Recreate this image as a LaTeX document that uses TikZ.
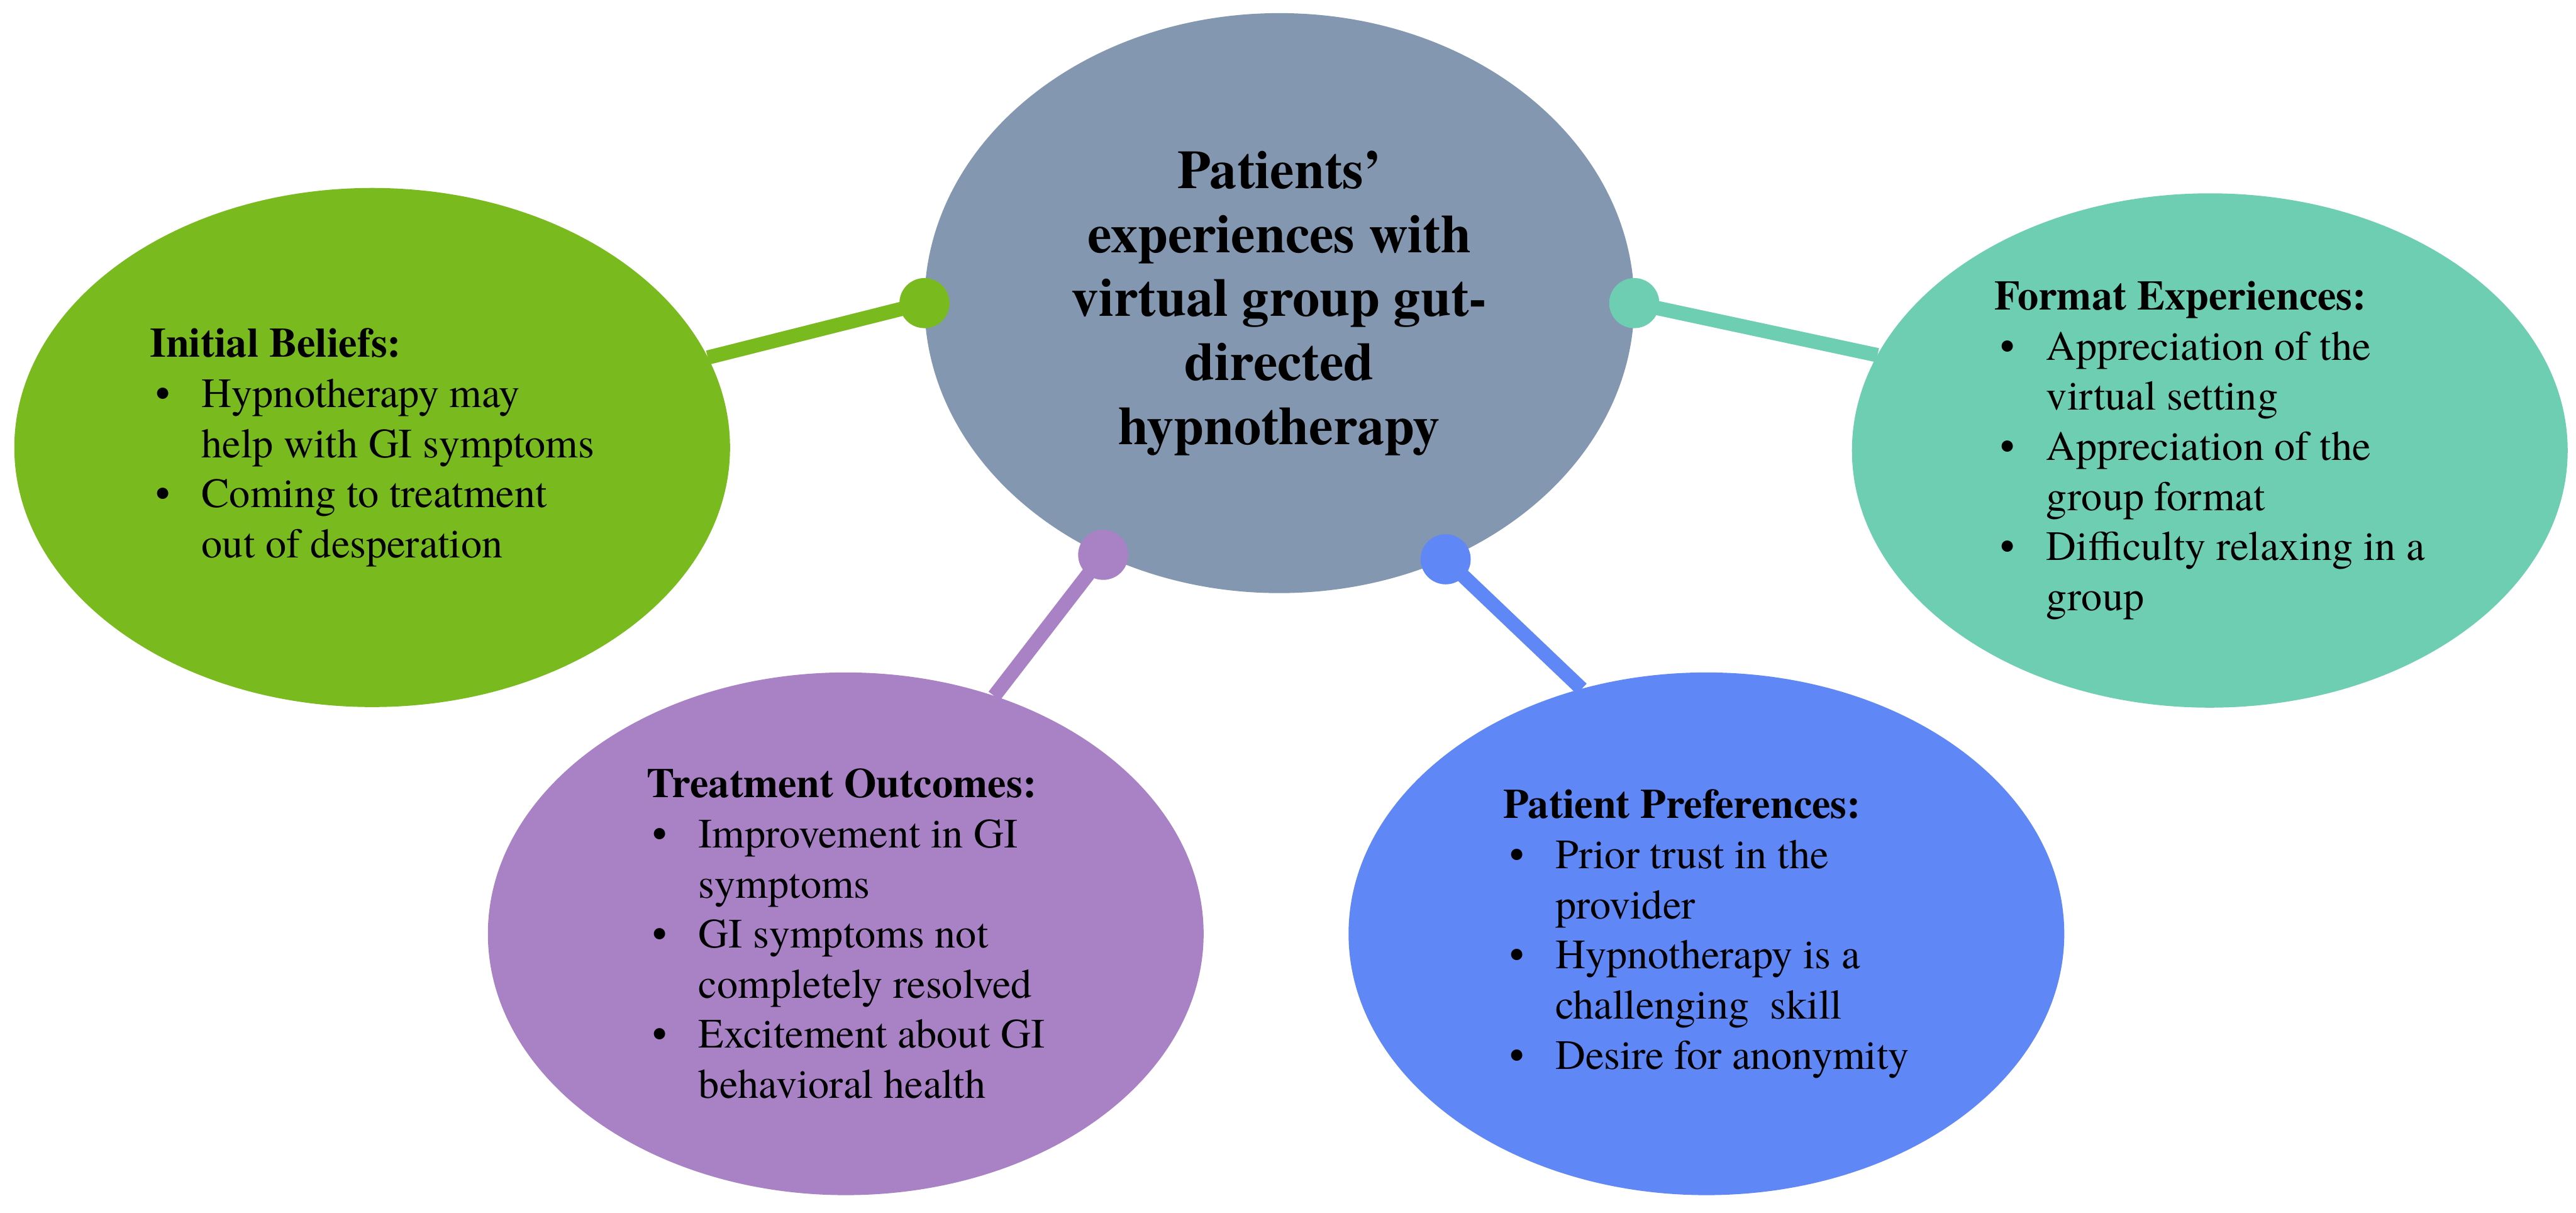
\documentclass[tikz,border=0pt]{standalone}
\usepackage{fontspec}
\setmainfont{texgyretermes}[Extension=.otf, UprightFont=*-regular, BoldFont=*-bold]
\usetikzlibrary{shapes.geometric}
\definecolor{hubgray}{HTML}{8497B0}
\definecolor{beliefgreen}{HTML}{79BA1E}
\definecolor{formatteal}{HTML}{6DCEB1}
\definecolor{outcomepurple}{HTML}{A981C5}
\definecolor{prefblue}{HTML}{5F87F6}
\newcommand{\bitem}{\hspace*{0.1cm}\makebox[0.77cm][l]{\textbullet}}
\newcommand{\bcont}{\hspace*{0.87cm}}
\tikzset{
  bubble/.style={ellipse, minimum width=12cm, minimum height=8.7cm, inner sep=0pt, outer sep=0pt,
    align=left, font=\fontsize{19.9}{23.9}\selectfont},
  stem/.style={line width=0.24cm},
  knob/.style={circle, minimum size=0.84cm, inner sep=0pt, outer sep=0pt}
}
\begin{document}
\begin{tikzpicture}
\fill[white] (0,0) rectangle (43.19,-20.32);
\useasboundingbox (0,0) rectangle (43.19,-20.32);
\node[ellipse, fill=hubgray, minimum width=11.9cm, minimum height=9.72cm, inner sep=0pt, outer sep=0pt, align=center, font=\fontsize{25.9}{30.5}\selectfont\bfseries] (hub) at (21.45,-5.08) {Patients’\\experiences with\\virtual group gut-\\directed\\hypnotherapy};
\node[bubble, fill=beliefgreen] (beliefs) at (6.24,-7.50) {\textbf{Initial Beliefs:}\\\bitem Hypnotherapy may\\\bcont help with GI symptoms\\\bitem Coming to treatment\\\bcont out of desperation};
\node[bubble, fill=formatteal, minimum height=8.62cm] (format) at (37.05,-7.55) {\textbf{Format Experiences:}\\\bitem Appreciation of the\\\bcont virtual setting\\\bitem Appreciation of the\\\bcont group format\\\bitem Difficulty relaxing in a\\\bcont group};
\node[bubble, fill=outcomepurple, minimum height=8.76cm] (outcomes) at (14.18,-15.65) {\textbf{Treatment Outcomes:}\\\bitem Improvement in GI\\\bcont symptoms\\\bitem GI symptoms not\\\bcont completely resolved\\\bitem Excitement about GI\\\bcont behavioral health};
\node[bubble, fill=prefblue, minimum height=8.76cm] (prefs) at (28.61,-15.65) {\textbf{Patient Preferences:}\\\bitem Prior trust in the\\\bcont provider\\\bitem Hypnotherapy is a\\\bcont challenging\ \ skill\\\bitem Desire for anonymity};
\coordinate (gknob) at (hub.180);
\coordinate (tknob) at (hub.0);
\coordinate (pknob) at (hub.235);
\coordinate (bknob) at (hub.303);
\draw[stem, beliefgreen] (gknob) -- (beliefs.15);
\draw[stem, formatteal] (tknob) -- (format.164);
\draw[stem, outcomepurple] (pknob) -- (outcomes.58);
\draw[stem, prefblue] (bknob) -- (prefs.117);
\node[knob, fill=beliefgreen] (gdot) at (gknob) {};
\node[knob, fill=formatteal] (tdot) at (tknob) {};
\node[knob, fill=outcomepurple] (pdot) at (pknob) {};
\node[knob, fill=prefblue] (bdot) at (bknob) {};
\end{tikzpicture}
\end{document}
